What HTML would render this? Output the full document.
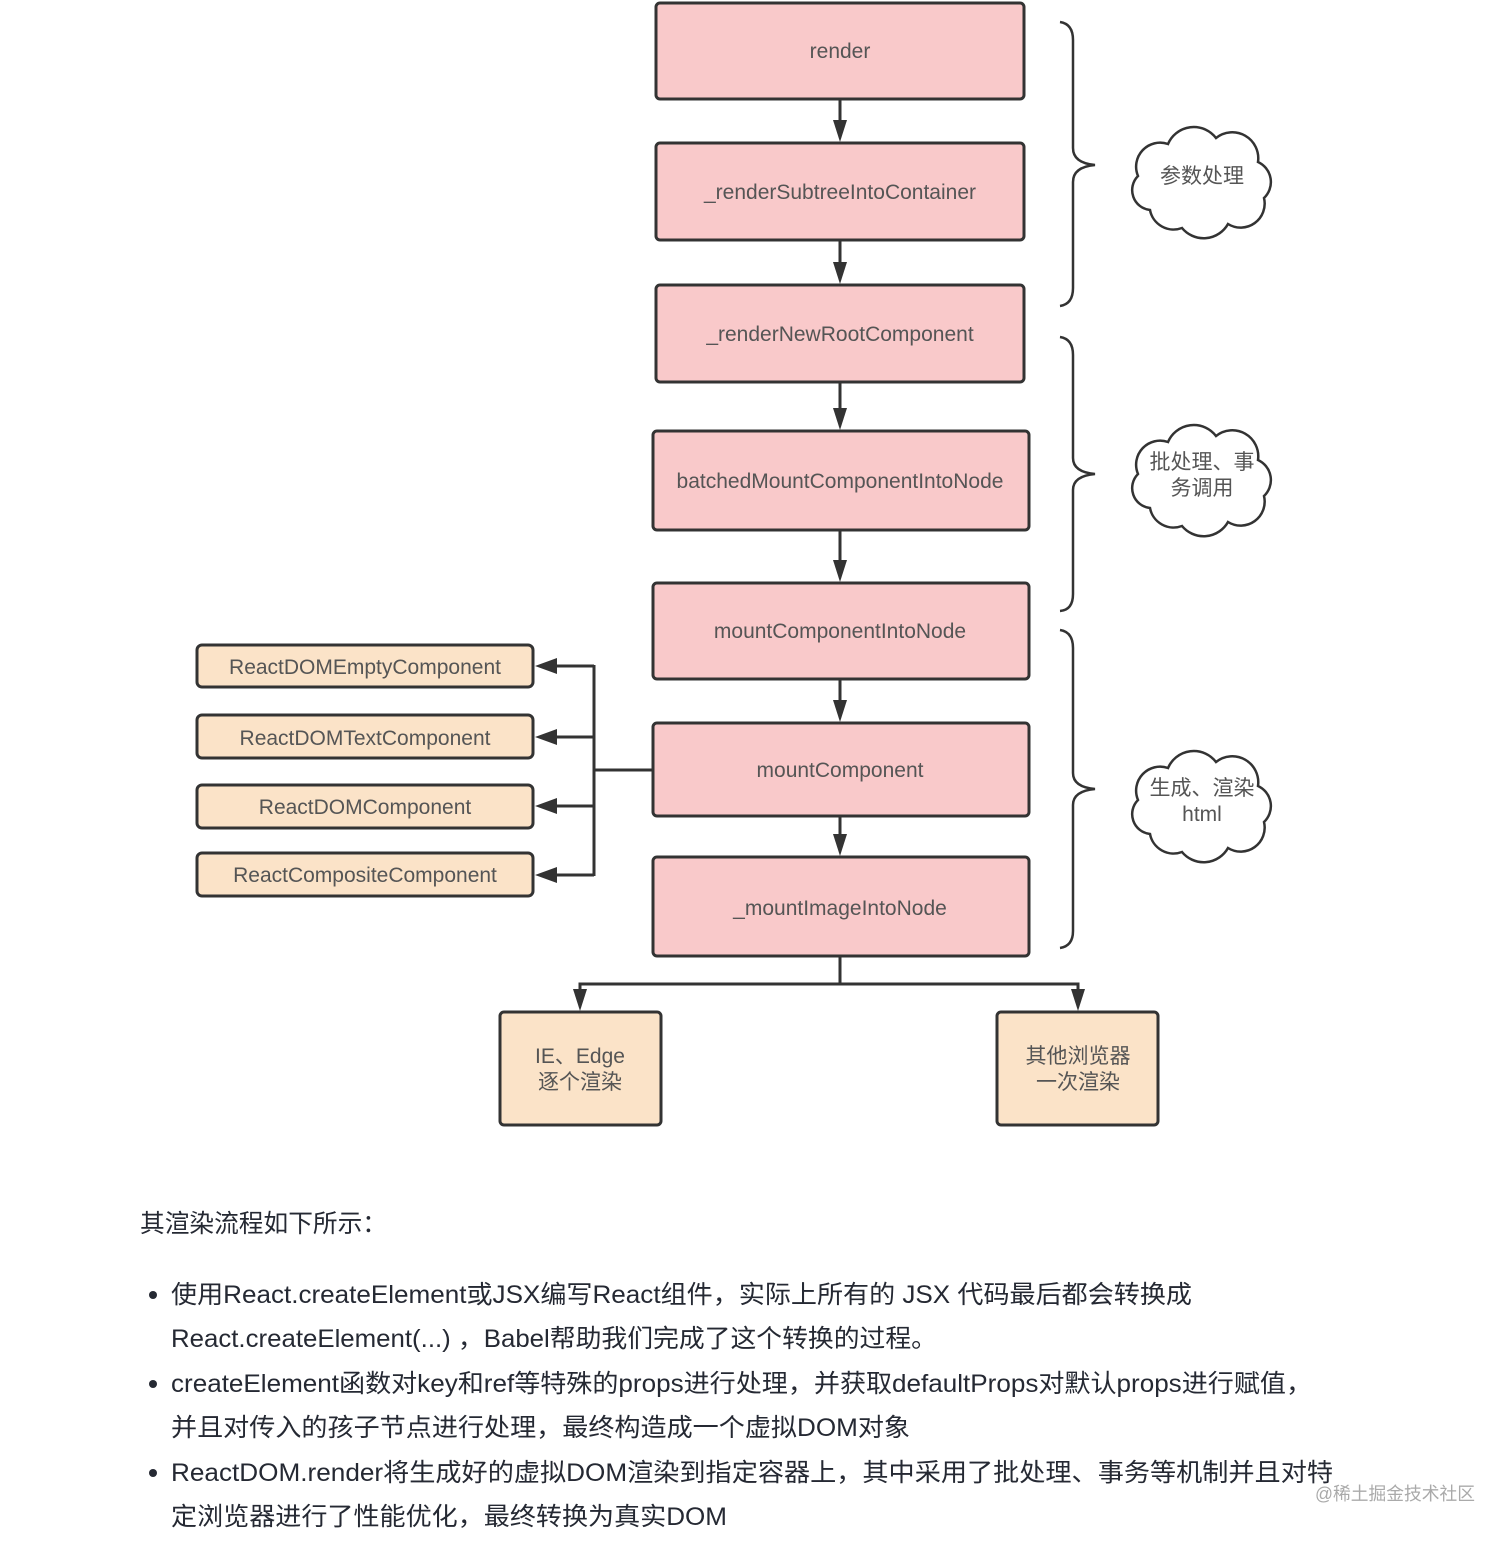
<!DOCTYPE html>
<html><head><meta charset="utf-8"><style>
html,body{margin:0;padding:0;background:#fff;}
svg{display:block;}
</style></head><body>
<svg width="1512" height="1541" viewBox="0 0 1512 1541" xmlns="http://www.w3.org/2000/svg" font-family="Liberation Sans, Noto Sans CJK SC, sans-serif">
<defs>
<path id="cloud" d="M-52,32 a20,20 0 0,1 -12,-34 a24,24 0 0,1 30,-32 a28,28 0 0,1 48,-6 a26,26 0 0,1 42,24 a22,22 0 0,1 6,36 a24,24 0 0,1 -36,26 a28,28 0 0,1 -46,4 a24,24 0 0,1 -32,-18 z" fill="#fff" stroke="#333" stroke-width="2.5"/>
<path id="dn" d="M-7,-22 L7,-22 L0,0 z" fill="#333"/>
<path id="lf" d="M0,0 L22,-8 L22,8 z" fill="#333"/>
</defs>
<g stroke="#333" stroke-width="3" fill="#f9c9ca">
<rect x="656" y="3" width="368" height="96" rx="4"/>
<rect x="656" y="143" width="368" height="97" rx="4"/>
<rect x="656" y="285" width="368" height="97" rx="4"/>
<rect x="653" y="431" width="376" height="99" rx="4"/>
<rect x="653" y="583" width="376" height="96" rx="4"/>
<rect x="653" y="723" width="376" height="93" rx="4"/>
<rect x="653" y="857" width="376" height="99" rx="4"/>
</g>
<g stroke="#333" stroke-width="3" fill="#fbe3c8">
<rect x="197" y="645" width="336" height="42" rx="5"/>
<rect x="197" y="715" width="336" height="43" rx="5"/>
<rect x="197" y="785" width="336" height="43" rx="5"/>
<rect x="197" y="853" width="336" height="43" rx="5"/>
<rect x="500" y="1012" width="161" height="113" rx="4"/>
<rect x="997" y="1012" width="161" height="113" rx="4"/>
</g>
<g stroke="#333" stroke-width="3" fill="none">
<line x1="840" y1="99" x2="840" y2="125"/>
<line x1="840" y1="240" x2="840" y2="265"/>
<line x1="840" y1="382" x2="840" y2="410"/>
<line x1="840" y1="530" x2="840" y2="562"/>
<line x1="840" y1="679" x2="840" y2="702"/>
<line x1="840" y1="816" x2="840" y2="838"/>
<line x1="653" y1="770" x2="594" y2="770"/>
<line x1="594" y1="665" x2="594" y2="876"/>
<line x1="594" y1="666" x2="555" y2="666"/>
<line x1="594" y1="737" x2="555" y2="737"/>
<line x1="594" y1="806" x2="555" y2="806"/>
<line x1="594" y1="875" x2="555" y2="875"/>
<polyline points="840,956 840,984"/>
<polyline points="580,992 580,984 1078,984 1078,992"/>
<path d="M1060,22 Q1073,24 1073,40 L1073,148 Q1073,163 1095,165 Q1073,167 1073,182 L1073,288 Q1073,304 1060,306" stroke-width="2.5"/>
<path d="M1060,337 Q1073,339 1073,355 L1073,458 Q1073,472 1095,474 Q1073,476 1073,490 L1073,594 Q1073,610 1060,611" stroke-width="2.5"/>
<path d="M1060,630 Q1073,632 1073,648 L1073,773 Q1073,787 1095,789 Q1073,791 1073,805 L1073,931 Q1073,946 1060,948" stroke-width="2.5"/>
</g>
<use href="#dn" x="840" y="142"/>
<use href="#dn" x="840" y="284"/>
<use href="#dn" x="840" y="430"/>
<use href="#dn" x="840" y="582"/>
<use href="#dn" x="840" y="722"/>
<use href="#dn" x="840" y="856"/>
<use href="#dn" x="580" y="1011"/>
<use href="#dn" x="1078" y="1011"/>
<use href="#lf" x="535" y="666"/>
<use href="#lf" x="535" y="737"/>
<use href="#lf" x="535" y="806"/>
<use href="#lf" x="535" y="875"/>
<use href="#cloud" transform="translate(1202,178)"/>
<use href="#cloud" transform="translate(1202,476)"/>
<use href="#cloud" transform="translate(1202,802)"/>
<g fill="#555" font-size="21" text-anchor="middle">
<text x="840" y="58">render</text>
<text x="840" y="199">_renderSubtreeIntoContainer</text>
<text x="840" y="341">_renderNewRootComponent</text>
<text x="840" y="488">batchedMountComponentIntoNode</text>
<text x="840" y="638">mountComponentIntoNode</text>
<text x="840" y="777">mountComponent</text>
<text x="840" y="915">_mountImageIntoNode</text>
<text x="365" y="674">ReactDOMEmptyComponent</text>
<text x="365" y="745">ReactDOMTextComponent</text>
<text x="365" y="814">ReactDOMComponent</text>
<text x="365" y="882">ReactCompositeComponent</text>
<text x="580" y="1063">IE、Edge</text>
<text x="580" y="1089">逐个渲染</text>
<text x="1078" y="1063">其他浏览器</text>
<text x="1078" y="1089">一次渲染</text>
<text x="1202" y="183">参数处理</text>
<text x="1202" y="469">批处理、事</text>
<text x="1202" y="495">务调用</text>
<text x="1202" y="795">生成、渲染</text>
<text x="1202" y="821">html</text>
</g>
<g fill="#252933" font-size="25">
<text x="140" y="1232" textLength="247" lengthAdjust="spacingAndGlyphs">其渲染流程如下所示：</text>
<circle cx="153" cy="1295" r="4"/>
<circle cx="153" cy="1384" r="4"/>
<circle cx="153" cy="1473" r="4"/>
<text x="171" y="1303" textLength="1021" lengthAdjust="spacingAndGlyphs">使用React.createElement或JSX编写React组件，实际上所有的 JSX 代码最后都会转换成</text>
<text x="171" y="1347" textLength="766" lengthAdjust="spacingAndGlyphs">React.createElement(...) ，Babel帮助我们完成了这个转换的过程。</text>
<text x="171" y="1392" textLength="1141" lengthAdjust="spacingAndGlyphs">createElement函数对key和ref等特殊的props进行处理，并获取defaultProps对默认props进行赋值，</text>
<text x="171" y="1436" textLength="739" lengthAdjust="spacingAndGlyphs">并且对传入的孩子节点进行处理，最终构造成一个虚拟DOM对象</text>
<text x="171" y="1481" textLength="1162" lengthAdjust="spacingAndGlyphs">ReactDOM.render将生成好的虚拟DOM渲染到指定容器上，其中采用了批处理、事务等机制并且对特</text>
<text x="171" y="1525" textLength="556" lengthAdjust="spacingAndGlyphs">定浏览器进行了性能优化，最终转换为真实DOM</text>
</g>
<text x="1315" y="1500" fill="#aaa" font-size="18" textLength="160" lengthAdjust="spacingAndGlyphs">@稀土掘金技术社区</text>
</svg>
</body></html>
